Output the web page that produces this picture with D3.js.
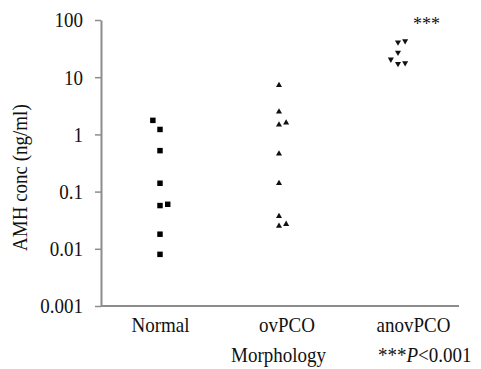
<!DOCTYPE html>
<html>
<head>
<meta charset="utf-8">
<script src="https://cdn.jsdelivr.net/npm/d3@7"></script>
<style>
  body { margin: 0; background: #fff; }
</style>
</head>
<body>
<svg width="481" height="369"></svg>
<script>
// groups on the x axis
var categories = ["Normal", "ovPCO", "anovPCO"];
var yTicks = [0.001, 0.01, 0.1, 1, 10, 100];
var yTickLabels = ["0.001", "0.01", "0.1", "1", "10", "100"];

// AMH values (ng/ml), with small horizontal jitter (category units)
var normalVals = [1.76, 1.22, 0.52, 0.14, 0.057, 0.06, 0.018, 0.008];
var normalJit  = [-0.06, 0, 0, 0, 0, 0.065, 0, 0];
var ovpcoVals  = [7.2, 2.5, 1.48, 1.6, 0.46, 0.14, 0.037, 0.025, 0.027];
var ovpcoJit   = [0, 0, 0, 0.06, 0, 0, 0, 0, 0.06];
var anovVals   = [41, 43, 27, 20.5, 17.2, 17.7];
var anovJit    = [0, 0.06, 0, -0.06, 0, 0.06];

var serif = "'Liberation Serif', 'Times New Roman', Times, serif";

var svg = d3.select("svg");
var margin = { top: 20, right: 23, bottom: 63, left: 101 };
var width = 481 - margin.left - margin.right;
var height = 369 - margin.top - margin.bottom;
var g = svg.append("g").attr("transform", "translate(" + margin.left + "," + margin.top + ")");

var y = d3.scaleLog().domain([0.001, 100]).range([height, 0]);
// marks sit on a slightly narrower grid than the labels
var xPts = d3.scaleLinear().domain([0, 2]).range([59, 297]);
var xLab = d3.scalePoint().domain(categories).range([59, 312]);

var axisColor = "#8c8c8c";

function serifText(sel) {
  sel.style("font-family", serif).style("fill", "#111");
}

// y axis
var yAxis = g.append("g")
  .call(d3.axisLeft(y).tickValues(yTicks).tickFormat(function (d, i) { return yTickLabels[i]; }).tickSize(6).tickSizeOuter(0).tickPadding(12));
yAxis.attr("font-family", null);
yAxis.select(".domain").attr("stroke", axisColor).attr("stroke-width", 2);
yAxis.selectAll(".tick line").attr("stroke", axisColor).attr("stroke-width", 1.5);
yAxis.selectAll(".tick text").style("font-size", "19px").attr("transform", "scale(1,1.12)").call(serifText);

// x axis
var xAxis = g.append("g")
  .attr("transform", "translate(0," + height + ")")
  .call(d3.axisBottom(xLab).tickSize(0).tickPadding(10));
xAxis.attr("font-family", null);
xAxis.select(".domain").attr("d", "M0,0H" + (width + 1)).attr("stroke", axisColor).attr("stroke-width", 2);
xAxis.selectAll(".tick text").style("font-size", "19px").attr("dy", "0.71em").attr("transform", "scale(1,1.12)").call(serifText);

// axis titles
svg.append("text")
  .attr("transform", "translate(27," + (margin.top + y(0.1) - 14) + ") rotate(-90) scale(1.0,1.1)")
  .attr("text-anchor", "middle")
  .style("font-size", "19px")
  .call(serifText)
  .text("AMH conc (ng/ml)");

svg.append("text")
  .attr("transform", "translate(" + (margin.left + xLab("ovPCO") - 8) + ",362) scale(1,1.12)")
  .attr("text-anchor", "middle")
  .style("font-size", "19px")
  .call(serifText)
  .text("Morphology");

var pnote = svg.append("text")
  .attr("transform", "translate(378,362) scale(1,1.12)")
  .style("font-size", "19px")
  .call(serifText);
pnote.append("tspan").text("***");
pnote.append("tspan").style("font-style", "italic").text("P");
pnote.append("tspan").text("<0.001");

// significance marker
svg.append("text")
  .attr("x", margin.left + xLab("anovPCO"))
  .attr("y", 30)
  .style("font-size", "18px")
  .call(serifText)
  .text("***");

// points
var sq = d3.symbol().type(d3.symbolSquare).size(30);
var tri = d3.symbol().type(d3.symbolTriangle).size(16);

g.selectAll(".normal")
  .data(normalVals)
  .enter().append("path")
  .attr("class", "normal")
  .attr("d", sq)
  .attr("fill", "#000")
  .attr("transform", function (d, i) { return "translate(" + xPts(0 + normalJit[i]) + "," + y(d) + ")"; });

g.selectAll(".ovpco")
  .data(ovpcoVals)
  .enter().append("path")
  .attr("class", "ovpco")
  .attr("d", tri)
  .attr("fill", "#111")
  .attr("transform", function (d, i) { return "translate(" + xPts(1 + ovpcoJit[i]) + "," + y(d) + ")"; });

g.selectAll(".anov")
  .data(anovVals)
  .enter().append("path")
  .attr("class", "anov")
  .attr("d", tri)
  .attr("fill", "#111")
  .attr("transform", function (d, i) { return "translate(" + xPts(2 + anovJit[i]) + "," + y(d) + ") rotate(180)"; });
</script>
</body>
</html>
